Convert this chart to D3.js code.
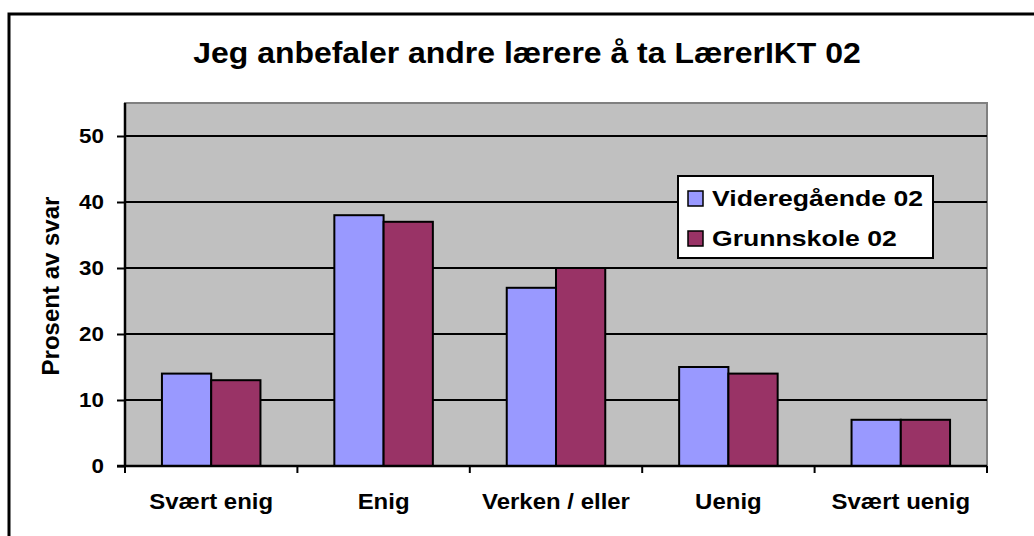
<!DOCTYPE html>
<html>
<head>
<meta charset="utf-8">
<script src="https://cdn.jsdelivr.net/npm/d3@7"></script>
<style>
  body { margin: 0; background: #fff; }
  svg text { font-family: Arial, "Liberation Sans", sans-serif; font-weight: bold; fill: #000; }
</style>
</head>
<body>
<svg id="chart" width="1034" height="536"></svg>
<script>
let categories = ['Svært enig', 'Enig', 'Verken / eller', 'Uenig', 'Svært uenig'];
let seriesNames = ['Videregående 02', 'Grunnskole 02'];
let videregaende = [14, 38, 27, 15, 7];
let grunnskole = [13, 37, 30, 14, 7];
let yTicks = [0, 10, 20, 30, 40, 50];
let colors = ['#9999ff', '#993366'];

let svg = d3.select('#chart');
let plot = {left: 125, top: 103, right: 987, bottom: 466};

/* The original text is a little wider than it is tall, so stretch it */
function addText(parent, x, y, size, sx, anchor, str) {
    return parent.append('text')
        .attr('transform', `translate(${x},${y}) scale(${sx},1)`)
        .attr('text-anchor', anchor)
        .style('font-size', size + 'px')
        .text(str);
}

/* Outer frame, only left and top edges fall inside the picture */
svg.append('rect')
    .attr('x', 9).attr('y', 14)
    .attr('width', 1100).attr('height', 600)
    .attr('fill', '#fff')
    .attr('stroke', '#000')
    .attr('stroke-width', 3);

addText(svg, 527, 63, 30, 1.065, 'middle', 'Jeg anbefaler andre lærere å ta LærerIKT 02');

let x0 = d3.scaleBand()
    .domain(categories)
    .range([plot.left, plot.right]);
/* Excel gap width 150%: each bar is bandwidth / 3.5 */
let x1 = d3.scaleBand()
    .domain(seriesNames)
    .range([x0.bandwidth() * 0.75 / 3.5, x0.bandwidth() * (1 - 0.75 / 3.5)]);

let y = d3.scaleLinear()
    .domain([0, 55])
    .range([plot.bottom, plot.top]);

/* Plot area */
svg.append('rect')
    .attr('x', plot.left).attr('y', plot.top)
    .attr('width', plot.right - plot.left)
    .attr('height', plot.bottom - plot.top)
    .attr('fill', '#c0c0c0')
    .attr('stroke', '#808080')
    .attr('stroke-width', 2);

/* Gridlines */
svg.append('g')
    .selectAll('line')
    .data(yTicks.slice(1))
    .enter()
    .append('line')
    .attr('x1', plot.left).attr('x2', plot.right)
    .attr('y1', d => y(d)).attr('y2', d => y(d))
    .attr('stroke', '#000')
    .attr('stroke-width', 2);

/* Bars */
let data = categories.map((c, i) => ({cat: c, values: [videregaende[i], grunnskole[i]]}));
svg.append('g')
    .selectAll('g')
    .data(data)
    .enter()
    .append('g')
    .attr('transform', d => `translate(${x0(d.cat)},0)`)
    .selectAll('rect')
    .data(d => d.values.map((v, j) => ({name: seriesNames[j], value: v, color: colors[j]})))
    .enter()
    .append('rect')
    .attr('x', d => x1(d.name))
    .attr('width', x1.bandwidth())
    .attr('y', d => y(d.value))
    .attr('height', d => y(0) - y(d.value))
    .attr('fill', d => d.color)
    .attr('stroke', '#000')
    .attr('stroke-width', 2);

/* Y axis */
let yAxis = svg.append('g')
    .attr('transform', `translate(${plot.left},0)`)
    .call(d3.axisLeft(y).tickValues(yTicks).tickSize(8).tickFormat(''));
yAxis.select('.domain').attr('stroke', '#000').attr('stroke-width', 2.5).attr('d', `M0,${plot.top}V${plot.bottom}`);
yAxis.selectAll('.tick line').attr('stroke', '#000').attr('stroke-width', 2);
yTicks.forEach(t => {
    addText(svg, 104, y(t) + 7, 20, 1.12, 'end', t);
});

/* X axis */
let xAxis = svg.append('g')
    .attr('transform', `translate(0,${plot.bottom})`);
xAxis.append('line')
    .attr('x1', plot.left - 8).attr('x2', plot.right)
    .attr('stroke', '#000').attr('stroke-width', 2.5);
xAxis.selectAll('.tickmark')
    .data(categories.concat(['end']))
    .enter()
    .append('line')
    .attr('x1', (d, i) => i < categories.length ? x0(d) : plot.right)
    .attr('x2', (d, i) => i < categories.length ? x0(d) : plot.right)
    .attr('y1', 0).attr('y2', 7)
    .attr('stroke', '#000').attr('stroke-width', 2);
categories.forEach(c => {
    addText(xAxis, x0(c) + x0.bandwidth() / 2, 43, 22, 1.09, 'middle', c);
});

/* Y axis title */
svg.append('text')
    .attr('transform', 'translate(59,286) rotate(-90)')
    .attr('text-anchor', 'middle')
    .style('font-size', '24px')
    .text('Prosent av svar');

/* Legend */
let legend = svg.append('g').attr('transform', 'translate(678,176)');
legend.append('rect')
    .attr('width', 255).attr('height', 82)
    .attr('fill', '#fff')
    .attr('stroke', '#000')
    .attr('stroke-width', 2);
seriesNames.forEach((s, i) => {
    let item = legend.append('g').attr('transform', `translate(10,${15 + i * 40})`);
    item.append('rect')
        .attr('width', 15).attr('height', 15)
        .attr('fill', colors[i])
        .attr('stroke', '#000')
        .attr('stroke-width', 1.5);
    addText(item, 24, 15, 22, 1.21, 'start', s);
});
</script>
</body>
</html>
